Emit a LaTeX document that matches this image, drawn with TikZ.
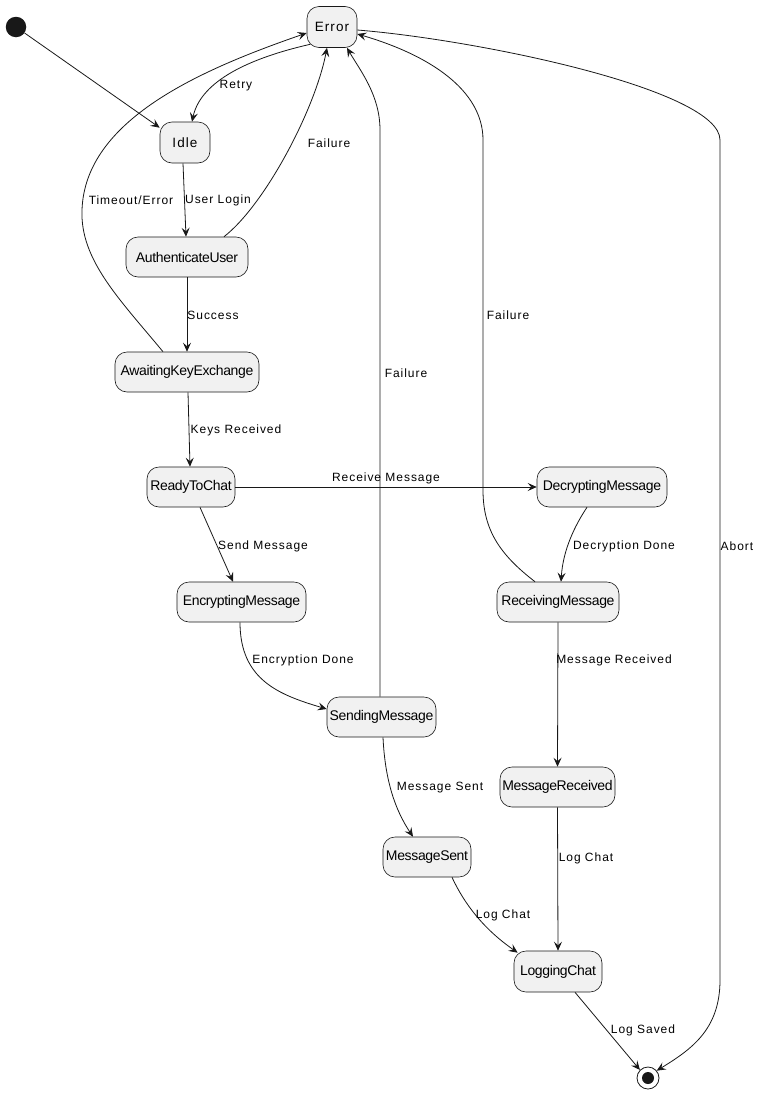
\documentclass[tikz,border=0pt]{standalone}
\usepackage{fontspec}
\setmainfont{Liberation Sans}
\newfontfamily\statefont[LetterSpace=-2.5]{Liberation Sans}
\newfontfamily\spacedfont[LetterSpace=8]{Liberation Sans}
\usetikzlibrary{arrows.meta,calc}
\definecolor{ink}{HTML}{181818}
\definecolor{statefill}{HTML}{F1F1F1}

\tikzset{
  state/.style={draw=ink, line width=0.6pt, fill=statefill, rounded corners=12pt,
    minimum height=40pt, inner sep=0pt, font=\statefont\fontsize{14}{16}\selectfont},
  plainstate/.style={state, font=\spacedfont\fontsize{13.5}{16}\selectfont},
  trans/.style={draw=ink, line width=0.8pt, -{Stealth[length=9pt,width=8pt,inset=3.5pt]}},
  lbl/.style={font=\spacedfont\fontsize{12}{14}\selectfont, inner sep=0pt, text=black},
}

\begin{document}
\begin{tikzpicture}[x=1pt,y=-1pt]
\useasboundingbox (0,0) rectangle (763,1095);

% pseudo states
\node[circle, fill=ink, minimum size=20.5pt, inner sep=0pt] (initial) at (16,27) {};
\node[circle, draw=ink, line width=0.8pt, fill=white, minimum size=22pt, inner sep=0pt] (final) at (648,1078) {};
\fill[ink] (final.center) circle (6pt);

% states
\node[plainstate, minimum width=50pt, minimum height=41pt] (Error) at (332,27) {Error};
\node[plainstate, minimum width=50pt, minimum height=41pt] (Idle) at (185,142.5) {Idle};
\node[state, minimum width=122pt] (Auth) at (187,257) {AuthenticateUser};
\node[state, minimum width=144pt] (AKE) at (187,372) {AwaitingKeyExchange};
\node[state, minimum width=88pt] (Ready) at (191,487) {ReadyToChat};
\node[state, minimum width=129pt] (Encrypt) at (241.5,602) {EncryptingMessage};
\node[state, minimum width=130pt] (Decrypt) at (602,487) {DecryptingMessage};
\node[state, minimum width=122pt] (Receive) at (558,602) {ReceivingMessage};
\node[state, minimum width=109pt] (Sending) at (381.5,717) {SendingMessage};
\node[state, minimum width=115pt] (MsgRcv) at (557.5,787) {MessageReceived};
\node[state, minimum width=88pt] (MsgSent) at (427,857) {MessageSent};
\node[state, minimum width=88pt, minimum height=41pt] (Logging) at (558,971.5) {LoggingChat};

% bend points of the long connectors
\coordinate (tmoBend) at (82,210);
\coordinate (rcvLow) at (483,490);
\coordinate (rcvHigh) at (483,140);
\coordinate (sndHigh) at (380,130);
\coordinate (abtHigh) at (720,140);
\coordinate (abtLow) at (720,980);

% transitions
\draw[trans] (initial) -- ($(Idle.north west)+(0,6)$);
\draw[trans] ($(Error.south west)+(3.5,-3.5)$) .. controls +(-70,16) and +(8,-37) .. ($(Idle.north)+(7,0)$);
\draw[trans] ($(Idle.south)+(-2,0)$) -- ($(Auth.north)+(-1,0)$);
\draw[trans] ($(Auth.north)+(37,0)$) .. controls +(41,-32) and +(-12,62) .. ($(Error.south)+(-5,0)$);
\draw[trans] (Auth.south) -- (AKE.north);
\draw[trans] ($(AKE.north)+(-24,0)$) .. controls +(-43,-52) and +(-2,50) .. (tmoBend)
  .. controls +(3,-90) and +(-107,37) .. ($(Error.west)+(0,6)$);
\draw[trans] ($(AKE.south)+(1,0)$) -- ($(Ready.north)+(-1,0)$);
\draw[trans] (Ready.east) -- (Decrypt.west);
\draw[trans] ($(Ready.south)+(9,0)$) -- ($(Encrypt.north)+(-8.5,0)$);
\draw[trans] ($(Decrypt.south)+(-15,0)$) .. controls +(-12,18) and +(2,-32) .. ($(Receive.north)+(3,0)$);
\draw[trans] ($(Receive.north)+(-23,0)$) .. controls +(-35,-27) and +(0,40) .. (rcvLow) -- (rcvHigh)
  .. controls +(0,-50) and +(72,21) .. ($(Error.east)+(0,7)$);
\draw[trans] ($(Sending.north)+(-1.5,0)$) -- (sndHigh) .. controls +(0,-35) and +(13,22.5) .. ($(Error.south)+(15,0)$);
\draw[trans] ($(Error.east)+(0,3)$) .. controls +(123,10) and +(0,-50) .. (abtHigh) -- (abtLow)
  .. controls +(0,50) and +(34,-21) .. (final.40);
\draw[trans] ($(Encrypt.south)+(-1.5,0)$) .. controls +(0,58) and +(-47,-14) .. ($(Sending.west)+(0,-8)$);
\draw[trans] ($(Sending.south)+(1.5,0)$) .. controls +(2,43) and +(-18,-27) .. ($(MsgSent.north)+(-14,0)$);
\draw[trans] (Receive.south) -- (MsgRcv.north);
\draw[trans] (MsgRcv.south) -- (Logging.north);
\draw[trans] ($(MsgSent.south)+(25,0)$) .. controls +(13,28) and +(-33,-23) .. ($(Logging.north west)+(4,2)$);
\draw[trans] ($(Logging.south)+(17,0)$) -- (final.135);

% transition labels
\node[lbl] (tRetry) at (236,86) {Retry};
\node[lbl] (tLogin) at (218,200) {User Login};
\node[lbl] (tFailA) at (329,143) {Failure};
\node[lbl] (tTimeout) at (131,200) {Timeout/Error};
\node[lbl] (tSuccess) at (213,315) {Success};
\node[lbl] (tKeys) at (236,430) {Keys Received};
\node[lbl] (tRecv) at (386,478) {Receive Message};
\node[lbl] (tSend) at (263,546) {Send Message};
\node[lbl] (tDecDone) at (624,546) {Decryption Done};
\node[lbl] (tFailS) at (406,373) {Failure};
\node[lbl] (tFailR) at (508,315) {Failure};
\node[lbl] (tAbort) at (737,546) {Abort};
\node[lbl] (tEncDone) at (303,660) {Encryption Done};
\node[lbl] (tMsgSent) at (440,788) {Message Sent};
\node[lbl] (tMsgRcv) at (614,660) {Message Received};
\node[lbl] (tLogR) at (586,858) {Log Chat};
\node[lbl] (tLogS) at (503,915) {Log Chat};
\node[lbl] (tSaved) at (643,1030) {Log Saved};
\end{tikzpicture}
\end{document}
